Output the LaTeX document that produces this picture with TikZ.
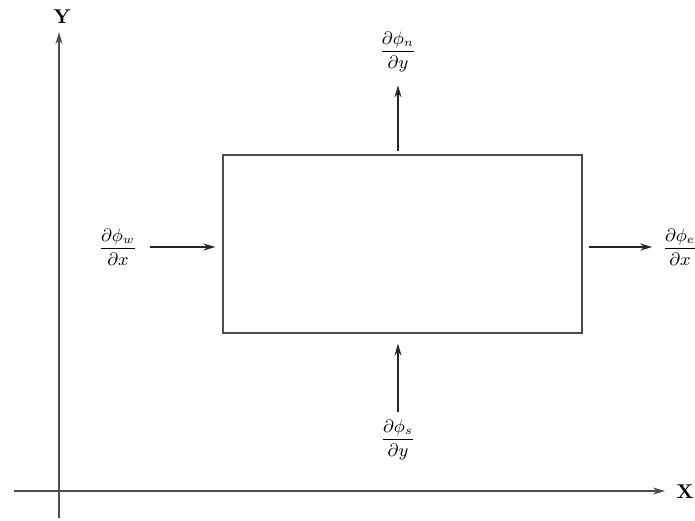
\documentclass[tikz,border=0pt]{standalone}
\usepackage{amsmath,amssymb}
\usepackage{xcolor}
\usepackage{tikz}
\usetikzlibrary{arrows.meta,positioning,calc}

\begin{document}
\begin{tikzpicture}[
  x=0.5pt, y=-0.5pt,
  axis/.style={-{Stealth[length=6pt,width=3.5pt]}, line width=0.8pt, black!70},
  flux/.style={-{Stealth[length=6pt,width=3.5pt]}, line width=0.7pt, black!85},
  cellbox/.style={rectangle, draw, black!70, line width=0.6pt, inner sep=0pt,
              minimum width=179.5pt, minimum height=89pt},
  lbl/.style={inner sep=1pt, font=\small}
]
  \useasboundingbox (0,0) rectangle (695,520);
  % axes
  \coordinate (ybot) at (59,518);
  \coordinate (ytip) at (59,32);
  \coordinate (xleft) at (14,491);
  \coordinate (xtip) at (665,491);
  \node[font=\bfseries] (ylab) at (62,17) {Y};
  \node[font=\bfseries] (xlab) at (685,492) {X};
  \draw[axis] (ybot) -- (ytip);
  \draw[axis] (xleft) -- (xtip);
  % control volume
  \node[cellbox] (cell) at (402.5,244) {};
  \node[lbl] (fn) at (398,52)  {$\dfrac{\partial\phi_n}{\partial y}$};
  \node[lbl] (fs) at (398,440) {$\dfrac{\partial\phi_s}{\partial y}$};
  \node[lbl] (fw) at (118,247) {$\dfrac{\partial\phi_w}{\partial x}$};
  \node[lbl] (fe) at (680,247) {$\dfrac{\partial\phi_e}{\partial x}$};
  \draw[flux, shorten <=1.5pt, shorten >=5.5pt] (cell.north -| fn) -- (fn);
  \draw[flux, shorten <=3pt, shorten >=5pt] (fs) -- (cell.south -| fs);
  \draw[flux, shorten <=5pt, shorten >=3.5pt] (fw) -- (cell.west |- fw);
  \draw[flux, shorten <=3pt, shorten >=4pt] (cell.east |- fe) -- (fe);
\end{tikzpicture}
\end{document}
